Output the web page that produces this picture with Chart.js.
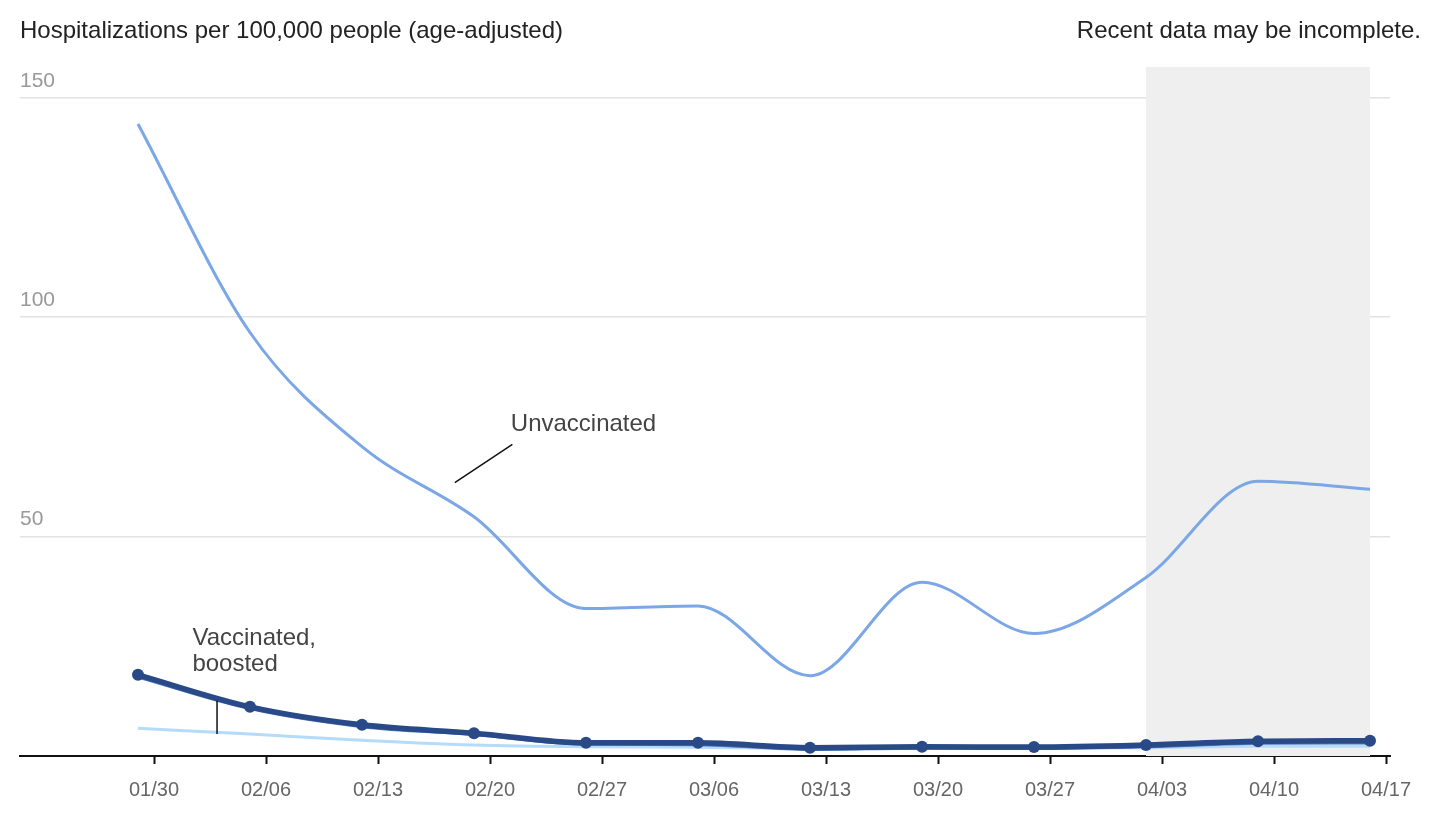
<!DOCTYPE html>
<html>
<head>
<meta charset="utf-8">
<script src="https://cdn.jsdelivr.net/npm/chart.js@4/dist/chart.umd.min.js"></script>
<style>
  html, body { margin: 0; padding: 0; background: #fff; }
  #wrap { width: 1456px; height: 821px; position: relative; }
</style>
</head>
<body>
<div id="wrap"><canvas id="myChart"></canvas></div>
<script>
// weekly data points (days counted from 01/30)
var pointDates = ['01/29', '02/05', '02/12', '02/19', '02/26', '03/05', '03/12', '03/19', '03/26', '04/02', '04/09', '04/16'];
var pointDays = [-1, 6, 13, 20, 27, 34, 41, 48, 55, 62, 69, 76];
var unvaccinated = [144, 96.5, 70.5, 54.5, 33.6, 34.2, 18.3, 39.6, 27.9, 40.7, 62.6, 60.8];
var vaccinated = [18.5, 11.2, 7.1, 5.2, 3.0, 3.0, 1.9, 2.1, 2.05, 2.5, 3.35, 3.5];
var vaccinatedUnder = [18.1, 10.9, 6.8, 5.0, 2.8, 2.7, 1.6, 1.9, 1.8, 2.2, 3.0, 3.1];
var boosted = [6.3, 5.0, 3.6, 2.5, 2.1, 2.0, 1.7, 1.8, 1.8, 1.9, 2.2, 2.2];

var tickLabels = ['01/30', '02/06', '02/13', '02/20', '02/27', '03/06', '03/13', '03/20', '03/27', '04/03', '04/10', '04/17'];
var tickDays = [0, 7, 14, 21, 28, 35, 42, 49, 56, 63, 70, 77];
var yTicks = [50, 100, 150];

var shadeFrom = 62; // 04/02
var shadeTo = 76;   // 04/16

function toPoints(vals) {
    var out = [];
    for (var i = 0; i < vals.length; i++) {
        out.push({x: pointDays[i], y: vals[i]});
    }
    return out;
}

var FONT = "'Liberation Sans', Arial, sans-serif";

const shadePlugin = {
    id: 'shade',
    beforeDatasetsDraw(chart) {
        const ctx = chart.ctx;
        const x = chart.scales.x, y = chart.scales.y;
        const x0 = x.getPixelForValue(shadeFrom), x1 = x.getPixelForValue(shadeTo);
        ctx.save();
        ctx.fillStyle = '#efefef';
        ctx.fillRect(x0, chart.chartArea.top, x1 - x0, y.getPixelForValue(0) - chart.chartArea.top);
        ctx.restore();
    }
};

const textPlugin = {
    id: 'texts',
    afterDraw(chart) {
        const ctx = chart.ctx;
        const x = chart.scales.x, y = chart.scales.y;
        ctx.save();
        ctx.font = '24px ' + FONT;
        ctx.fillStyle = '#222';
        ctx.textBaseline = 'middle';
        ctx.textAlign = 'left';
        ctx.fillText('Hospitalizations per 100,000 people (age-adjusted)', 20, 31);
        ctx.textAlign = 'right';
        ctx.fillText('Recent data may be incomplete.', 1421, 31);

        // annotations
        ctx.fillStyle = '#444';
        ctx.textAlign = 'left';
        ctx.fillText('Unvaccinated', x.getPixelForValue(22.3), y.getPixelForValue(75.6));
        ctx.fillText('Vaccinated,', x.getPixelForValue(2.4), y.getPixelForValue(26.7));
        ctx.fillText('boosted', x.getPixelForValue(2.4), y.getPixelForValue(20.8));

        ctx.strokeStyle = '#111';
        ctx.lineWidth = 1.5;
        ctx.beginPath();
        ctx.moveTo(x.getPixelForValue(18.8), y.getPixelForValue(62.3));
        ctx.lineTo(x.getPixelForValue(22.4), y.getPixelForValue(71));
        ctx.moveTo(x.getPixelForValue(3.94), y.getPixelForValue(12.6));
        ctx.lineTo(x.getPixelForValue(3.94), y.getPixelForValue(5.0));
        ctx.stroke();
        ctx.restore();
    }
};

config = {
    type: 'line',
    data: {
        datasets: [{
            label: 'Vaccinated',
            data: toPoints(vaccinated),
            borderColor: '#294a87',
            backgroundColor: '#294a87',
            borderWidth: 5.5,
            pointRadius: 6,
            pointBorderWidth: 0,
            order: 0
        },
        {
            label: 'Vaccinated (under)',
            data: toPoints(vaccinatedUnder),
            borderColor: '#4d77c0',
            borderWidth: 4,
            pointRadius: 0,
            order: 1
        },
        {
            label: 'Vaccinated, boosted',
            data: toPoints(boosted),
            borderColor: '#b4dcfa',
            borderWidth: 3,
            pointRadius: 0,
            order: 2
        },
        {
            label: 'Unvaccinated',
            data: toPoints(unvaccinated),
            borderColor: '#7ba7e6',
            borderWidth: 3,
            pointRadius: 0,
            order: 3
        }]
    },
    options: {
        responsive: true,
        maintainAspectRatio: false,
        animation: false,
        cubicInterpolationMode: 'monotone',
        layout: {
            padding: {left: 20, right: 66, top: 67, bottom: 5}
        },
        plugins: {
            legend: {display: false},
            tooltip: {enabled: false}
        },
        scales: {
            x: {
                type: 'linear',
                min: -8.375,
                max: 77.25,
                afterBuildTicks: (s) => { s.ticks = tickDays.map(v => ({value: v})); },
                ticks: {
                    callback: (v) => tickLabels[tickDays.indexOf(v)],
                    color: '#666',
                    font: {size: 20, family: FONT},
                    padding: 14,
                    maxRotation: 0,
                    autoSkip: false
                },
                grid: {
                    drawOnChartArea: false,
                    drawTicks: true,
                    tickLength: 8,
                    tickWidth: 2,
                    tickColor: '#111'
                },
                border: {color: '#111', width: 2}
            },
            y: {
                min: 0,
                max: 157,
                afterBuildTicks: (s) => { s.ticks = yTicks.map(v => ({value: v})); },
                afterFit: (s) => { s.width = 0; },
                ticks: {
                    mirror: true,
                    padding: 0,
                    labelOffset: -17,
                    color: '#999',
                    font: {size: 21, family: FONT}
                },
                grid: {
                    color: '#e2e2e2',
                    lineWidth: 1.5,
                    drawTicks: false
                },
                border: {display: false}
            }
        }
    },
    plugins: [shadePlugin, textPlugin]
};
Chart.defaults.font.family = FONT;
const ctx = document.getElementById('myChart');
const myChart = new Chart(ctx, config);
</script>
</body>
</html>
